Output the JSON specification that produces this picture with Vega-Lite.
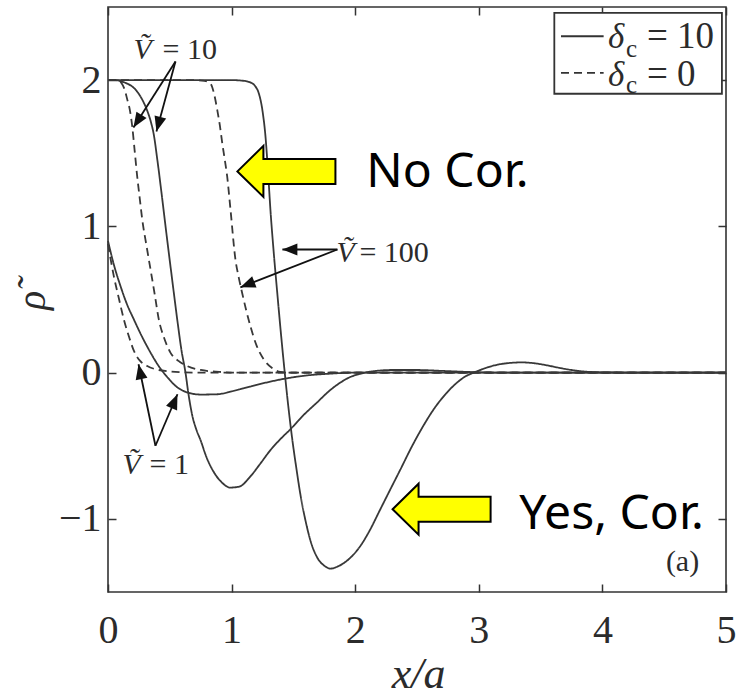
{
  "$schema": "https://vega.github.io/schema/vega-lite/v6.json",
  "width": 618,
  "height": 585,
  "autosize": {"type": "none"},
  "padding": {"left": 108, "top": 7, "right": 15, "bottom": 106},
  "background": "white",
  "view": {"stroke": "#333333", "strokeWidth": 1.6},
  "datasets": {
    "curves": [
      {"s": "A", "d": "10", "x": 0, "y": 2}, {"s": "A", "d": "10", "x": 0.6, "y": 2}, {"s": "A", "d": "10", "x": 1.0, "y": 2},
      {"s": "A", "d": "10", "x": 1.1, "y": 1.995}, {"s": "A", "d": "10", "x": 1.15, "y": 1.985}, {"s": "A", "d": "10", "x": 1.19, "y": 1.96},
      {"s": "A", "d": "10", "x": 1.22, "y": 1.91}, {"s": "A", "d": "10", "x": 1.25, "y": 1.79}, {"s": "A", "d": "10", "x": 1.274, "y": 1.616},
      {"s": "A", "d": "10", "x": 1.295, "y": 1.37}, {"s": "A", "d": "10", "x": 1.314, "y": 1.115}, {"s": "A", "d": "10", "x": 1.34, "y": 0.83},
      {"s": "A", "d": "10", "x": 1.37, "y": 0.54}, {"s": "A", "d": "10", "x": 1.4, "y": 0.26}, {"s": "A", "d": "10", "x": 1.43, "y": 0.0},
      {"s": "A", "d": "10", "x": 1.46, "y": -0.24}, {"s": "A", "d": "10", "x": 1.49, "y": -0.45}, {"s": "A", "d": "10", "x": 1.525, "y": -0.66},
      {"s": "A", "d": "10", "x": 1.56, "y": -0.85}, {"s": "A", "d": "10", "x": 1.6, "y": -1.02}, {"s": "A", "d": "10", "x": 1.64, "y": -1.155},
      {"s": "A", "d": "10", "x": 1.69, "y": -1.26}, {"s": "A", "d": "10", "x": 1.75, "y": -1.32}, {"s": "A", "d": "10", "x": 1.8, "y": -1.34},
      {"s": "A", "d": "10", "x": 1.86, "y": -1.325}, {"s": "A", "d": "10", "x": 1.92, "y": -1.295}, {"s": "A", "d": "10", "x": 1.98, "y": -1.25},
      {"s": "A", "d": "10", "x": 2.05, "y": -1.175}, {"s": "A", "d": "10", "x": 2.12, "y": -1.075}, {"s": "A", "d": "10", "x": 2.2, "y": -0.94},
      {"s": "A", "d": "10", "x": 2.285, "y": -0.797}, {"s": "A", "d": "10", "x": 2.37, "y": -0.655}, {"s": "A", "d": "10", "x": 2.447, "y": -0.524},
      {"s": "A", "d": "10", "x": 2.54, "y": -0.38}, {"s": "A", "d": "10", "x": 2.635, "y": -0.251}, {"s": "A", "d": "10", "x": 2.73, "y": -0.148},
      {"s": "A", "d": "10", "x": 2.824, "y": -0.068}, {"s": "A", "d": "10", "x": 2.9, "y": -0.022}, {"s": "A", "d": "10", "x": 2.96, "y": 0.0},
      {"s": "A", "d": "10", "x": 3.05, "y": 0.03}, {"s": "A", "d": "10", "x": 3.15, "y": 0.054}, {"s": "A", "d": "10", "x": 3.25, "y": 0.066},
      {"s": "A", "d": "10", "x": 3.35, "y": 0.07}, {"s": "A", "d": "10", "x": 3.45, "y": 0.064}, {"s": "A", "d": "10", "x": 3.55, "y": 0.05},
      {"s": "A", "d": "10", "x": 3.65, "y": 0.033}, {"s": "A", "d": "10", "x": 3.75, "y": 0.018}, {"s": "A", "d": "10", "x": 3.85, "y": 0.008},
      {"s": "A", "d": "10", "x": 4.0, "y": 0.002}, {"s": "A", "d": "10", "x": 4.3, "y": 0}, {"s": "A", "d": "10", "x": 5, "y": 0},

      {"s": "B", "d": "10", "x": 0, "y": 2}, {"s": "B", "d": "10", "x": 0.06, "y": 2}, {"s": "B", "d": "10", "x": 0.1, "y": 1.993},
      {"s": "B", "d": "10", "x": 0.15, "y": 1.978}, {"s": "B", "d": "10", "x": 0.209, "y": 1.947}, {"s": "B", "d": "10", "x": 0.25, "y": 1.905},
      {"s": "B", "d": "10", "x": 0.29, "y": 1.845}, {"s": "B", "d": "10", "x": 0.32, "y": 1.785}, {"s": "B", "d": "10", "x": 0.345, "y": 1.72},
      {"s": "B", "d": "10", "x": 0.37, "y": 1.63}, {"s": "B", "d": "10", "x": 0.4, "y": 1.45}, {"s": "B", "d": "10", "x": 0.44, "y": 1.18},
      {"s": "B", "d": "10", "x": 0.48, "y": 0.9}, {"s": "B", "d": "10", "x": 0.52, "y": 0.63}, {"s": "B", "d": "10", "x": 0.56, "y": 0.364},
      {"s": "B", "d": "10", "x": 0.595, "y": 0.15}, {"s": "B", "d": "10", "x": 0.627, "y": 0.0}, {"s": "B", "d": "10", "x": 0.65, "y": -0.14},
      {"s": "B", "d": "10", "x": 0.681, "y": -0.29}, {"s": "B", "d": "10", "x": 0.715, "y": -0.39}, {"s": "B", "d": "10", "x": 0.748, "y": -0.46},
      {"s": "B", "d": "10", "x": 0.8, "y": -0.585}, {"s": "B", "d": "10", "x": 0.856, "y": -0.68}, {"s": "B", "d": "10", "x": 0.92, "y": -0.75},
      {"s": "B", "d": "10", "x": 0.99, "y": -0.786}, {"s": "B", "d": "10", "x": 1.06, "y": -0.78}, {"s": "B", "d": "10", "x": 1.152, "y": -0.71},
      {"s": "B", "d": "10", "x": 1.23, "y": -0.625}, {"s": "B", "d": "10", "x": 1.314, "y": -0.53}, {"s": "B", "d": "10", "x": 1.4, "y": -0.45},
      {"s": "B", "d": "10", "x": 1.476, "y": -0.387}, {"s": "B", "d": "10", "x": 1.58, "y": -0.292}, {"s": "B", "d": "10", "x": 1.69, "y": -0.205},
      {"s": "B", "d": "10", "x": 1.79, "y": -0.125}, {"s": "B", "d": "10", "x": 1.88, "y": -0.068}, {"s": "B", "d": "10", "x": 1.96, "y": -0.03},
      {"s": "B", "d": "10", "x": 2.04, "y": -0.008}, {"s": "B", "d": "10", "x": 2.15, "y": 0.01}, {"s": "B", "d": "10", "x": 2.3, "y": 0.018},
      {"s": "B", "d": "10", "x": 2.5, "y": 0.018}, {"s": "B", "d": "10", "x": 2.7, "y": 0.012}, {"s": "B", "d": "10", "x": 2.9, "y": 0.005},
      {"s": "B", "d": "10", "x": 3.2, "y": 0}, {"s": "B", "d": "10", "x": 5, "y": 0},

      {"s": "C", "d": "10", "x": 0, "y": 0.9}, {"s": "C", "d": "10", "x": 0.05, "y": 0.73}, {"s": "C", "d": "10", "x": 0.101, "y": 0.592},
      {"s": "C", "d": "10", "x": 0.15, "y": 0.475}, {"s": "C", "d": "10", "x": 0.209, "y": 0.364}, {"s": "C", "d": "10", "x": 0.27, "y": 0.255},
      {"s": "C", "d": "10", "x": 0.344, "y": 0.137}, {"s": "C", "d": "10", "x": 0.41, "y": 0.045}, {"s": "C", "d": "10", "x": 0.479, "y": -0.03},
      {"s": "C", "d": "10", "x": 0.56, "y": -0.1}, {"s": "C", "d": "10", "x": 0.64, "y": -0.135}, {"s": "C", "d": "10", "x": 0.75, "y": -0.15},
      {"s": "C", "d": "10", "x": 0.883, "y": -0.148}, {"s": "C", "d": "10", "x": 1.0, "y": -0.128}, {"s": "C", "d": "10", "x": 1.152, "y": -0.095},
      {"s": "C", "d": "10", "x": 1.28, "y": -0.068}, {"s": "C", "d": "10", "x": 1.42, "y": -0.043}, {"s": "C", "d": "10", "x": 1.6, "y": -0.02},
      {"s": "C", "d": "10", "x": 1.8, "y": -0.007}, {"s": "C", "d": "10", "x": 2.0, "y": 0}, {"s": "C", "d": "10", "x": 5, "y": 0},

      {"s": "D", "d": "0", "x": 0, "y": 0.88}, {"s": "D", "d": "0", "x": 0.047, "y": 0.66}, {"s": "D", "d": "0", "x": 0.09, "y": 0.5},
      {"s": "D", "d": "0", "x": 0.128, "y": 0.364}, {"s": "D", "d": "0", "x": 0.17, "y": 0.245}, {"s": "D", "d": "0", "x": 0.209, "y": 0.15},
      {"s": "D", "d": "0", "x": 0.26, "y": 0.08}, {"s": "D", "d": "0", "x": 0.317, "y": 0.045}, {"s": "D", "d": "0", "x": 0.4, "y": 0.02},
      {"s": "D", "d": "0", "x": 0.5, "y": 0.008}, {"s": "D", "d": "0", "x": 0.6, "y": 0.002}, {"s": "D", "d": "0", "x": 0.7, "y": 0},
      {"s": "D", "d": "0", "x": 5, "y": 0},

      {"s": "E", "d": "0", "x": 0, "y": 2}, {"s": "E", "d": "0", "x": 0.08, "y": 2}, {"s": "E", "d": "0", "x": 0.11, "y": 1.978},
      {"s": "E", "d": "0", "x": 0.135, "y": 1.935}, {"s": "E", "d": "0", "x": 0.155, "y": 1.87}, {"s": "E", "d": "0", "x": 0.178, "y": 1.79},
      {"s": "E", "d": "0", "x": 0.196, "y": 1.684}, {"s": "E", "d": "0", "x": 0.216, "y": 1.515}, {"s": "E", "d": "0", "x": 0.236, "y": 1.343},
      {"s": "E", "d": "0", "x": 0.257, "y": 1.19}, {"s": "E", "d": "0", "x": 0.277, "y": 1.047}, {"s": "E", "d": "0", "x": 0.31, "y": 0.875},
      {"s": "E", "d": "0", "x": 0.344, "y": 0.706}, {"s": "E", "d": "0", "x": 0.378, "y": 0.535}, {"s": "E", "d": "0", "x": 0.411, "y": 0.364},
      {"s": "E", "d": "0", "x": 0.455, "y": 0.235}, {"s": "E", "d": "0", "x": 0.505, "y": 0.137}, {"s": "E", "d": "0", "x": 0.57, "y": 0.08},
      {"s": "E", "d": "0", "x": 0.64, "y": 0.045}, {"s": "E", "d": "0", "x": 0.75, "y": 0.018}, {"s": "E", "d": "0", "x": 0.9, "y": 0.005},
      {"s": "E", "d": "0", "x": 1.05, "y": 0}, {"s": "E", "d": "0", "x": 5, "y": 0},

      {"s": "F", "d": "0", "x": 0, "y": 2}, {"s": "F", "d": "0", "x": 0.7, "y": 2}, {"s": "F", "d": "0", "x": 0.78, "y": 1.995},
      {"s": "F", "d": "0", "x": 0.83, "y": 1.975}, {"s": "F", "d": "0", "x": 0.86, "y": 1.9}, {"s": "F", "d": "0", "x": 0.883, "y": 1.8},
      {"s": "F", "d": "0", "x": 0.905, "y": 1.69}, {"s": "F", "d": "0", "x": 0.924, "y": 1.571}, {"s": "F", "d": "0", "x": 0.944, "y": 1.46},
      {"s": "F", "d": "0", "x": 0.964, "y": 1.343}, {"s": "F", "d": "0", "x": 0.991, "y": 1.115}, {"s": "F", "d": "0", "x": 1.031, "y": 0.774},
      {"s": "F", "d": "0", "x": 1.058, "y": 0.65}, {"s": "F", "d": "0", "x": 1.085, "y": 0.546}, {"s": "F", "d": "0", "x": 1.12, "y": 0.42},
      {"s": "F", "d": "0", "x": 1.152, "y": 0.318}, {"s": "F", "d": "0", "x": 1.2, "y": 0.19}, {"s": "F", "d": "0", "x": 1.26, "y": 0.091},
      {"s": "F", "d": "0", "x": 1.33, "y": 0.03}, {"s": "F", "d": "0", "x": 1.395, "y": 0.005}, {"s": "F", "d": "0", "x": 1.5, "y": 0},
      {"s": "F", "d": "0", "x": 5, "y": 0}
    ],
    "legendBox": [{"x0": 3.611, "x1": 4.967, "y0": 2.46, "y1": 1.907}],
    "legendLines": [
      {"d": "10", "x0": 3.665, "x1": 4.01, "y": 2.3},
      {"d": "0", "x0": 3.665, "x1": 4.01, "y": 2.05}
    ],
    "legendDelta": [{"t": "δ", "x": 4.045, "y": 2.22}, {"t": "δ", "x": 4.045, "y": 1.963}],
    "legendSub": [{"t": "c", "x": 4.19, "y": 2.16}, {"t": "c", "x": 4.19, "y": 1.915}],
    "legendEq": [{"t": "= 10", "x": 4.36, "y": 2.22}, {"t": "= 0", "x": 4.36, "y": 1.963}],
    "arrows": [
      {"x0": 0.546, "y0": 2.128, "x1": 0.206, "y1": 1.676},
      {"x0": 0.546, "y0": 2.128, "x1": 0.392, "y1": 1.649},
      {"x0": 1.856, "y0": 0.842, "x1": 1.411, "y1": 0.842},
      {"x0": 1.856, "y0": 0.842, "x1": 1.071, "y1": 0.583},
      {"x0": 0.384, "y0": -0.5, "x1": 0.247, "y1": 0.057},
      {"x0": 0.384, "y0": -0.5, "x1": 0.562, "y1": -0.148}
    ],
    "noteV": [{"t": "Ṽ", "x": 0.207, "y": 2.142}, {"t": "Ṽ", "x": 1.848, "y": 0.754}, {"t": "Ṽ", "x": 0.117, "y": -0.695}],
    "noteEq": [{"t": "= 10", "x": 0.441, "y": 2.142}, {"t": "= 100", "x": 2.034, "y": 0.754}, {"t": "= 1", "x": 0.336, "y": -0.695}],
    "blockArrows": [{"x": 1.4436, "y": 1.376}, {"x": 2.699, "y": -0.934}],
    "callouts": [{"t": "No Cor.", "x": 2.09, "y": 1.266}, {"t": "Yes, Cor.", "x": 3.328, "y": -1.07}],
    "panel": [{"t": "(a)", "x": 4.783, "y": -1.357}]
  },
  "layer": [
    {
      "data": {"name": "curves"},
      "mark": {"type": "line", "interpolate": "monotone", "strokeWidth": 1.8, "color": "#383838"},
      "encoding": {
        "x": {
          "field": "x", "type": "quantitative",
          "scale": {"domain": [0, 5], "nice": false, "zero": false},
          "axis": {
            "orient": "bottom", "values": [0, 1, 2, 3, 4, 5], "format": "d",
            "title": "x/a", "titleFont": "Liberation Serif", "titleFontStyle": "italic", "titleFontWeight": "normal",
            "titleFontSize": 44, "titleColor": "#2b2b2b", "titleX": 310, "titleY": 95,
            "titleAlign": "center", "titleBaseline": "alphabetic",
            "labelFont": "Liberation Serif", "labelFontSize": 40, "labelColor": "#2b2b2b",
            "labelPadding": 26, "labelFlush": false, "labelOverlap": false,
            "tickSize": -8, "tickWidth": 1.5, "tickColor": "#333333", "domain": false, "grid": false
          }
        },
        "y": {
          "field": "y", "type": "quantitative",
          "scale": {"domain": [-1.5, 2.5], "nice": false, "zero": false},
          "axis": {
            "orient": "left", "values": [-1, 0, 1, 2], "format": "d",
            "title": "ρ̃", "titleFont": "Liberation Serif", "titleFontStyle": "italic", "titleFontWeight": "normal",
            "titleFontSize": 40, "titleColor": "#2b2b2b", "titleAngle": -90, "titleX": -76, "titleY": 293,
            "titleAlign": "center", "titleBaseline": "middle",
            "labelFont": "Liberation Serif", "labelFontSize": 40, "labelColor": "#2b2b2b",
            "labelPadding": 15, "labelOverlap": false,
            "tickSize": -8, "tickWidth": 1.5, "tickColor": "#333333", "domain": false, "grid": false
          }
        },
        "detail": {"field": "s"},
        "strokeDash": {
          "field": "d", "type": "nominal",
          "scale": {"domain": ["10", "0"], "range": [[1, 0], [8, 5]]},
          "legend": null
        }
      }
    },
    {
      "data": {"name": "legendBox"},
      "mark": {"type": "rect", "fill": "white", "stroke": "#333333", "strokeWidth": 1.8},
      "encoding": {
        "x": {
          "field": "x0", "type": "quantitative",
          "axis": {"orient": "top", "values": [0, 1, 2, 3, 4, 5], "labels": false, "title": null,
                   "tickSize": -8, "tickWidth": 1.5, "tickColor": "#333333", "domain": false, "grid": false}
        },
        "x2": {"field": "x1"},
        "y": {
          "field": "y0", "type": "quantitative",
          "axis": {"orient": "right", "values": [-1, 0, 1, 2], "labels": false, "title": null,
                   "tickSize": -8, "tickWidth": 1.5, "tickColor": "#333333", "domain": false, "grid": false}
        },
        "y2": {"field": "y1"}
      }
    },
    {
      "data": {"name": "legendLines"},
      "mark": {"type": "rule", "strokeWidth": 1.8, "color": "#333333"},
      "encoding": {
        "x": {"field": "x0", "type": "quantitative", "axis": null},
        "x2": {"field": "x1"},
        "y": {"field": "y", "type": "quantitative", "axis": null},
        "strokeDash": {
          "field": "d", "type": "nominal",
          "scale": {"domain": ["10", "0"], "range": [[1, 0], [8, 5]]},
          "legend": null
        }
      }
    },
    {
      "data": {"name": "legendDelta"},
      "mark": {"type": "text", "font": "Liberation Serif", "fontStyle": "italic", "fontSize": 35, "align": "left", "baseline": "alphabetic", "color": "#2b2b2b"},
      "encoding": {
        "x": {"field": "x", "type": "quantitative", "axis": null},
        "y": {"field": "y", "type": "quantitative", "axis": null},
        "text": {"field": "t"}
      }
    },
    {
      "data": {"name": "legendSub"},
      "mark": {"type": "text", "font": "Liberation Serif", "fontSize": 25, "align": "left", "baseline": "alphabetic", "color": "#2b2b2b"},
      "encoding": {
        "x": {"field": "x", "type": "quantitative", "axis": null},
        "y": {"field": "y", "type": "quantitative", "axis": null},
        "text": {"field": "t"}
      }
    },
    {
      "data": {"name": "legendEq"},
      "mark": {"type": "text", "font": "Liberation Serif", "fontSize": 37, "align": "left", "baseline": "alphabetic", "color": "#2b2b2b"},
      "encoding": {
        "x": {"field": "x", "type": "quantitative", "axis": null},
        "y": {"field": "y", "type": "quantitative", "axis": null},
        "text": {"field": "t"}
      }
    },
    {
      "data": {"name": "arrows"},
      "mark": {"type": "rule", "strokeWidth": 1.8, "color": "#111111"},
      "encoding": {
        "x": {"field": "x0", "type": "quantitative", "axis": null},
        "y": {"field": "y0", "type": "quantitative", "axis": null},
        "x2": {"field": "x1"},
        "y2": {"field": "y1"}
      }
    },
    {
      "data": {"name": "arrows"},
      "transform": [
        {"calculate": "atan2((datum.x1 - datum.x0) * 123.6, (datum.y1 - datum.y0) * 146.3) * 180 / PI", "as": "heading"}
      ],
      "mark": {"type": "point", "shape": "M0,0L-0.4,1L0.4,1Z", "filled": true, "size": 900, "color": "#111111", "opacity": 1},
      "encoding": {
        "x": {"field": "x1", "type": "quantitative", "axis": null},
        "y": {"field": "y1", "type": "quantitative", "axis": null},
        "angle": {"field": "heading", "type": "quantitative", "scale": null}
      }
    },
    {
      "data": {"name": "noteV"},
      "mark": {"type": "text", "font": "Liberation Serif", "fontStyle": "italic", "fontSize": 30, "align": "left", "baseline": "alphabetic", "color": "#2b2b2b"},
      "encoding": {
        "x": {"field": "x", "type": "quantitative", "axis": null},
        "y": {"field": "y", "type": "quantitative", "axis": null},
        "text": {"field": "t"}
      }
    },
    {
      "data": {"name": "noteEq"},
      "mark": {"type": "text", "font": "Liberation Serif", "fontSize": 30, "align": "left", "baseline": "alphabetic", "color": "#2b2b2b"},
      "encoding": {
        "x": {"field": "x", "type": "quantitative", "axis": null},
        "y": {"field": "y", "type": "quantitative", "axis": null},
        "text": {"field": "t"}
      }
    },
    {
      "data": {"name": "blockArrows"},
      "mark": {
        "type": "point",
        "shape": "M-1,0L-0.47,-0.52L-0.47,-0.255L1,-0.255L1,0.255L-0.47,0.255L-0.47,0.52Z",
        "size": 9604, "filled": true, "fill": "#ffff00", "stroke": "#000000", "strokeWidth": 2, "opacity": 1, "fillOpacity": 1, "strokeOpacity": 1
      },
      "encoding": {
        "x": {"field": "x", "type": "quantitative", "axis": null},
        "y": {"field": "y", "type": "quantitative", "axis": null}
      }
    },
    {
      "data": {"name": "callouts"},
      "mark": {"type": "text", "font": "Noto Sans", "fontSize": 48, "align": "left", "baseline": "alphabetic", "color": "#000000"},
      "encoding": {
        "x": {"field": "x", "type": "quantitative", "axis": null},
        "y": {"field": "y", "type": "quantitative", "axis": null},
        "text": {"field": "t"}
      }
    },
    {
      "data": {"name": "panel"},
      "mark": {"type": "text", "font": "Liberation Serif", "fontSize": 30, "align": "right", "baseline": "alphabetic", "color": "#2b2b2b"},
      "encoding": {
        "x": {"field": "x", "type": "quantitative", "axis": null},
        "y": {"field": "y", "type": "quantitative", "axis": null},
        "text": {"field": "t"}
      }
    }
  ],
  "resolve": {"axis": {"x": "independent", "y": "independent"}}
}
